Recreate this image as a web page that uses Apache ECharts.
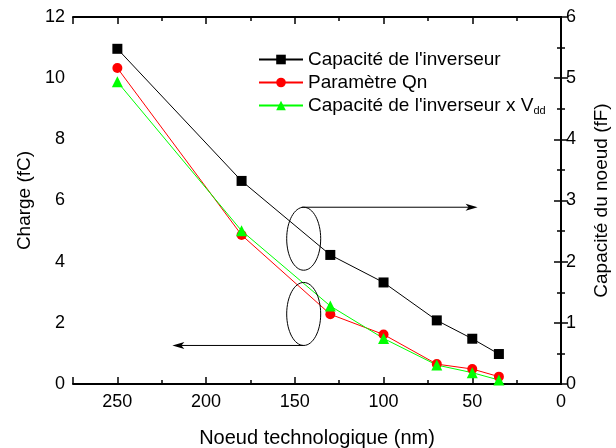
<!DOCTYPE html>
<html>
<head>
<meta charset="utf-8">
<script src="https://cdn.jsdelivr.net/npm/echarts@6/dist/echarts.min.js"></script>
<style>
html,body{margin:0;padding:0;background:#fff;}
#c{width:616px;height:448px;}
</style>
</head>
<body>
<div id="c"></div>
<script>
// ---- data ----
var nodes = [250, 180, 130, 100, 70, 50, 35];            // nm
var capInv = [5.48, 3.32, 2.11, 1.66, 1.04, 0.74, 0.49];  // fF (right axis)
var qn = [10.33, 4.87, 2.28, 1.62, 0.65, 0.49, 0.24];     // fC
var capVdd = [9.88, 5.01, 2.55, 1.49, 0.62, 0.37, 0.13];  // fC
var seriesNames = ["Capacité de l'inverseur", "Paramètre Qn", "Capacité de l'inverseur x Vdd"];
var xTitle = 'Noeud technologique (nm)';
var yLeftTitle = 'Charge (fC)';
var yRightTitle = 'Capacité du noeud (fF)';
// annotation anchors (data coords): ellipse centres and arrow tips
var upperEllipse = [145, 4.75];
var lowerEllipse = [145, 2.29];
var rightArrowTipX = 47;
var leftArrowTipX = 219;

var FONT = "'Liberation Sans', Arial, sans-serif";
function pairs(xs, ys) { return xs.map(function (x, i) { return [x, ys[i]]; }); }

var chart = echarts.init(document.getElementById('c'), null, {renderer: 'canvas'});

function xAxisDef(pos, interval, tickLen, showLabel, showLine, name) {
  return {
    type: 'value', position: pos, min: 0, max: 275, interval: interval, inverse: true,
    name: name || '', nameLocation: 'middle', nameGap: 44,
    nameTextStyle: {fontFamily: FONT, fontSize: 20, color: '#000'},
    axisLine: {show: showLine, onZero: false, lineStyle: {color: '#000', width: 2}},
    axisTick: {show: true, inside: true, length: tickLen, lineStyle: {color: '#000', width: 1.5}},
    axisLabel: {show: showLabel, margin: 9, fontFamily: FONT, fontSize: 18, color: '#000',
      formatter: function (v) { return v % 50 === 0 ? String(v) : ''; }},
    splitLine: {show: false}
  };
}

var option = {
  backgroundColor: '#fff',
  animation: false,
  grid: {left: 73, right: 55, top: 17, bottom: 64, containLabel: false, outerBoundsMode: 'none'},
  legend: {
    orient: 'vertical', left: 253, top: 45, itemGap: 4, itemWidth: 44, itemHeight: 12,
    textStyle: {fontFamily: FONT, fontSize: 19, color: '#000',
      rich: {
        t: {fontFamily: FONT, fontSize: 19, color: '#000'},
        s: {fontFamily: FONT, fontSize: 11, color: '#000', padding: [11, 0, 0, 0]}
      }},
    formatter: function (name) {
      if (name === seriesNames[2]) return "{t|Capacité de l'inverseur x V}{s|dd}";
      return '{t|' + name + '}';
    },
    data: seriesNames
  },
  xAxis: [
    xAxisDef('bottom', 50, 7, true, true, xTitle),
    xAxisDef('bottom', 25, 4, false, false),
    xAxisDef('top', 50, 7, false, true),
    xAxisDef('top', 25, 4, false, false)
  ],
  yAxis: [
    {
      type: 'value', position: 'left', min: 0, max: 12, interval: 2,
      name: yLeftTitle, nameLocation: 'middle', nameGap: 38, nameRotate: 90,
      nameTextStyle: {fontFamily: FONT, fontSize: 19, color: '#000'},
      axisLine: {show: true, lineStyle: {color: '#000', width: 2}},
      axisTick: {show: true, inside: true, length: 7, lineStyle: {color: '#000', width: 1.5}},
      minorTick: {show: true, splitNumber: 2, length: 4, lineStyle: {color: '#000', width: 1.5}},
      axisLabel: {margin: 8, fontFamily: FONT, fontSize: 18, color: '#000'},
      splitLine: {show: false}
    },
    {
      type: 'value', position: 'right', min: 0, max: 6, interval: 1,
      name: yRightTitle, nameLocation: 'middle', nameGap: 31, nameRotate: 90,
      nameTextStyle: {fontFamily: FONT, fontSize: 19, color: '#000'},
      axisLine: {show: true, lineStyle: {color: '#000', width: 2}},
      axisTick: {show: true, inside: true, length: 7, lineStyle: {color: '#000', width: 1.5}},
      minorTick: {show: true, splitNumber: 2, length: 4, lineStyle: {color: '#000', width: 1.5}},
      axisLabel: {margin: 5, fontFamily: FONT, fontSize: 18, color: '#000'},
      splitLine: {show: false}
    }
  ],
  series: [
    {
      name: seriesNames[0], type: 'line', xAxisIndex: 0, yAxisIndex: 1,
      data: pairs(nodes, capInv), symbol: 'rect', symbolSize: 10,
      lineStyle: {color: '#000', width: 1}, itemStyle: {color: '#000'}
    },
    {
      name: seriesNames[1], type: 'line', xAxisIndex: 0, yAxisIndex: 0,
      data: pairs(nodes, qn), symbol: 'circle', symbolSize: 10,
      lineStyle: {color: '#ff0000', width: 1}, itemStyle: {color: '#ff0000'}
    },
    {
      name: seriesNames[2], type: 'line', xAxisIndex: 0, yAxisIndex: 0,
      data: pairs(nodes, capVdd), symbol: 'triangle', symbolSize: 11,
      lineStyle: {color: '#00ff00', width: 1}, itemStyle: {color: '#00ff00'}
    }
  ]
};
chart.setOption(option);

// annotations positioned through the chart's own scales
function px(pt) { return chart.convertToPixel({xAxisIndex: 0, yAxisIndex: 0}, pt); }
var ue = px(upperEllipse), le = px(lowerEllipse);
var rx = 17, ry = 31.5;
var rTip = px([rightArrowTipX, upperEllipse[1]])[0];
var lTip = px([leftArrowTipX, lowerEllipse[1]])[0];
var uy = ue[1] - ry, ly = le[1] + ry;
var stroke = {stroke: '#000', lineWidth: 1, fill: null};
chart.setOption({
  graphic: [
    {type: 'ellipse', shape: {cx: ue[0], cy: ue[1], rx: rx, ry: ry}, style: stroke, z: 100},
    {type: 'ellipse', shape: {cx: le[0], cy: le[1], rx: rx, ry: ry}, style: stroke, z: 100},
    {type: 'line', shape: {x1: ue[0] - 2, y1: uy, x2: rTip - 6, y2: uy}, style: {stroke: '#000', lineWidth: 1}, z: 100},
    {type: 'polygon', shape: {points: [[rTip, uy], [rTip - 12, uy - 3.5], [rTip - 9, uy], [rTip - 12, uy + 3.5]]}, style: {fill: '#000'}, z: 100},
    {type: 'line', shape: {x1: le[0], y1: ly, x2: lTip + 6, y2: ly}, style: {stroke: '#000', lineWidth: 1}, z: 100},
    {type: 'polygon', shape: {points: [[lTip, ly], [lTip + 12, ly - 3.5], [lTip + 9, ly], [lTip + 12, ly + 3.5]]}, style: {fill: '#000'}, z: 100}
  ]
});
</script>
</body>
</html>
